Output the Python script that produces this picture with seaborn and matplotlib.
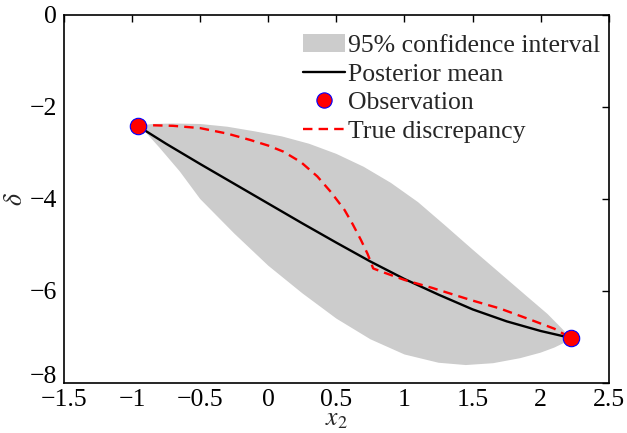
import numpy as np
import pandas as pd
import matplotlib
matplotlib.use("Agg")
import matplotlib.pyplot as plt
import seaborn as sns
from matplotlib.patches import Patch
from matplotlib.lines import Line2D

# Posterior band (95% confidence interval)
hi_x = [-0.96, -0.85, -0.7, -0.5, -0.3, -0.1, 0.1, 0.3, 0.5, 0.7, 0.9, 1.1, 1.3, 1.5,
        1.7, 1.9, 2.05, 2.15, 2.22]
hi_y = [-2.41, -2.37, -2.36, -2.37, -2.43, -2.53, -2.64, -2.8, -3.02, -3.3, -3.65, -4.07,
        -4.58, -5.1, -5.61, -6.12, -6.5, -6.8, -7.02]
lo_x = [-0.96, -0.9, -0.8, -0.65, -0.5, -0.25, 0.0, 0.25, 0.5, 0.75, 1.0, 1.25, 1.45,
        1.65, 1.85, 2.0, 2.1, 2.17, 2.22]
lo_y = [-2.41, -2.55, -2.88, -3.4, -4.0, -4.75, -5.45, -6.05, -6.6, -7.05, -7.38, -7.56,
        -7.61, -7.57, -7.46, -7.34, -7.23, -7.13, -7.02]

# Posterior mean
mean_x = [-0.96, -0.75, -0.5, -0.25, 0.0, 0.25, 0.5, 0.75, 1.0, 1.25, 1.5, 1.75, 2.0, 2.22]
mean_y = [-2.41, -2.8, -3.24, -3.67, -4.1, -4.53, -4.95, -5.36, -5.74, -6.08, -6.4, -6.66,
          -6.87, -7.02]

# True discrepancy
true_x = [-0.96, -0.7, -0.5, -0.3, -0.13, 0.0, 0.11, 0.24, 0.36, 0.46, 0.56, 0.62, 0.68,
          0.73, 0.77, 0.85, 1.0, 1.2, 1.49, 1.7, 1.93, 2.1, 2.22]
true_y = [-2.39, -2.41, -2.46, -2.58, -2.72, -2.84, -2.97, -3.2, -3.51, -3.85, -4.24, -4.55,
          -4.89, -5.2, -5.51, -5.6, -5.76, -5.93, -6.2, -6.38, -6.63, -6.82, -7.02]

# Observations
obs_x = [-0.96, 2.22]
obs_y = [-2.41, -7.02]

sns.set_theme(style="white")
plt.rcParams["font.family"] = ["Liberation Serif", "DejaVu Serif"]
plt.rcParams["mathtext.fontset"] = "stix"
plt.rcParams["axes.unicode_minus"] = True

FS = 18.5
fig = plt.figure(figsize=(6.27, 4.33), dpi=100)
ax = fig.add_axes([0.102, 0.1155, 0.869, 0.85])

# band polygon: upper edge left-to-right, lower edge right-to-left
poly_x = hi_x + lo_x[::-1]
poly_y = hi_y + lo_y[::-1]
ax.fill(poly_x, poly_y, color="#cccccc", linewidth=0, zorder=1)

sns.lineplot(x=mean_x, y=mean_y, ax=ax, color="black", linewidth=1.7, sort=False,
             estimator=None, zorder=2)
sns.lineplot(x=true_x, y=true_y, ax=ax, color="red", linewidth=1.7, sort=False,
             estimator=None, zorder=3, linestyle=(0, (4, 2.6)))
sns.scatterplot(x=obs_x, y=obs_y, ax=ax, color="red", edgecolor="blue", linewidth=0.8,
                s=140, zorder=4)

ax.set_xlim(-1.5, 2.5)
ax.set_ylim(-8, 0)
ax.set_xticks(np.arange(-1.5, 2.51, 0.5))
ax.set_yticks([-8, -6, -4, -2, 0])
ax.set_xticklabels(["\u22121.5", "\u22121", "\u22120.5", "0", "0.5", "1", "1.5", "2", "2.5"])
ax.set_yticklabels(["\u22128", "\u22126", "\u22124", "\u22122", "0"])
ax.tick_params(axis="both", direction="in", length=5, width=1, top=True, right=True,
               labelsize=FS, colors="black")
ax.tick_params(axis="x", pad=4)
ax.tick_params(axis="y", pad=5)
for s in ax.spines.values():
    s.set_visible(True)
    s.set_color("black")
    s.set_linewidth(1.2)
ax.set_xlabel("$x_2$", fontsize=FS, labelpad=-1)
ax.set_ylabel("$\\delta$", fontsize=FS, labelpad=2)

# sit the lowest y tick label on its tick so it clears the first x tick label
ax.yaxis.get_major_ticks()[0].label1.set_verticalalignment("baseline")

handles = [
    Patch(facecolor="#cccccc", edgecolor="none"),
    Line2D([], [], color="black", linewidth=1.7),
    Line2D([], [], color="red", marker="o", markersize=11, markeredgecolor="blue",
           markeredgewidth=0.8, linestyle="none"),
    Line2D([], [], color="red", linewidth=1.7, linestyle=(0, (4, 2.6))),
]
labels = ["95% confidence interval", "Posterior mean", "Observation", "True discrepancy"]
ax.legend(handles, labels, loc="upper right", frameon=False, fontsize=FS,
          handlelength=1.6, handletextpad=0.15, labelspacing=0.22,
          borderaxespad=0.3, borderpad=0.3, bbox_to_anchor=(1.013, 0.99))

fig.savefig("out.png", dpi=100)
